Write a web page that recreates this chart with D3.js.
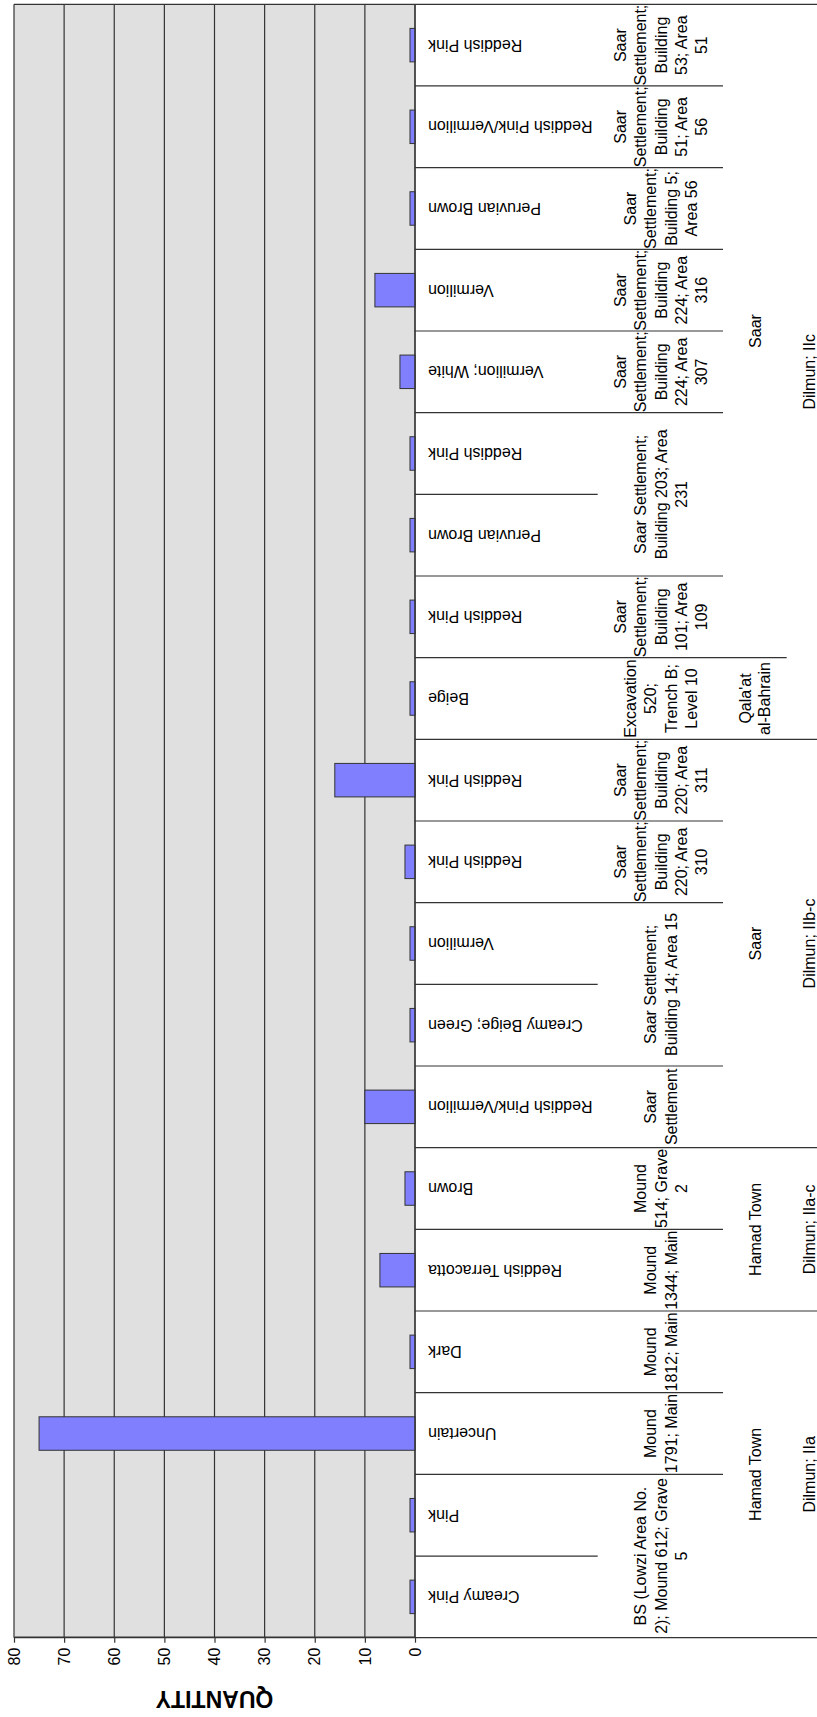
<!DOCTYPE html>
<html>
<head>
<meta charset="utf-8">
<script src="https://cdn.jsdelivr.net/npm/d3@7"></script>
<style>
  body { margin: 0; background: #fff; }
  text { font-family: "Liberation Sans", Arial, sans-serif; }
</style>
</head>
<body>
<div class="chart"></div>
<script>
// categories, first = left of the unrotated chart (bottom of the picture)
var colours = ["Creamy Pink", "Pink", "Uncertain", "Dark", "Reddish Terracotta", "Brown",
  "Reddish Pink/Vermilion", "Creamy Beige; Green", "Vermilion", "Reddish Pink", "Reddish Pink",
  "Beige", "Reddish Pink", "Peruvian Brown", "Reddish Pink", "Vermilion; White", "Vermilion",
  "Peruvian Brown", "Reddish Pink/Vermilion", "Reddish Pink"];

var quantities = [1, 1, 75, 1, 7, 2, 10, 1, 1, 2, 16, 1, 1, 1, 1, 3, 8, 1, 1, 1];

// context labels, line breaks as in the picture
var contexts = [
  "BS (Lowzi Area No.\n2); Mound 612; Grave\n5",
  "BS (Lowzi Area No.\n2); Mound 612; Grave\n5",
  "Mound\n1791; Main",
  "Mound\n1812; Main",
  "Mound\n1344; Main",
  "Mound\n514; Grave\n2",
  "Saar\nSettlement",
  "Saar Settlement;\nBuilding 14; Area 15",
  "Saar Settlement;\nBuilding 14; Area 15",
  "Saar\nSettlement;\nBuilding\n220; Area\n310",
  "Saar\nSettlement;\nBuilding\n220; Area\n311",
  "Excavation\n520;\nTrench B;\nLevel 10",
  "Saar\nSettlement;\nBuilding\n101; Area\n109",
  "Saar Settlement;\nBuilding 203; Area\n231",
  "Saar Settlement;\nBuilding 203; Area\n231",
  "Saar\nSettlement;\nBuilding\n224; Area\n307",
  "Saar\nSettlement;\nBuilding\n224; Area\n316",
  "Saar\nSettlement;\nBuilding 5;\nArea 56",
  "Saar\nSettlement;\nBuilding\n51; Area\n56",
  "Saar\nSettlement;\nBuilding\n53; Area\n51"
];

var sites = ["Hamad Town", "Hamad Town", "Hamad Town", "Hamad Town", "Hamad Town", "Hamad Town",
  "Saar", "Saar", "Saar", "Saar", "Saar", "Qala'at\nal-Bahrain",
  "Saar", "Saar", "Saar", "Saar", "Saar", "Saar", "Saar", "Saar"];

var periods = ["Dilmun; IIa", "Dilmun; IIa", "Dilmun; IIa", "Dilmun; IIa", "Dilmun; IIa-c", "Dilmun; IIa-c",
  "Dilmun; IIb-c", "Dilmun; IIb-c", "Dilmun; IIb-c", "Dilmun; IIb-c", "Dilmun; IIb-c",
  "Dilmun; IIc", "Dilmun; IIc", "Dilmun; IIc", "Dilmun; IIc", "Dilmun; IIc", "Dilmun; IIc",
  "Dilmun; IIc", "Dilmun; IIc", "Dilmun; IIc"];

var valueTicks = [0, 10, 20, 30, 40, 50, 60, 70, 80];
var axisTitle = "QUANTITY";

// the chart is drawn as a normal column chart, then turned a quarter turn
var W = 1717, H = 817;
var plotLeft = 79.3, plotRight = 1712.7, plotTop = 14, plotBottom = 415;
var lineCol = "#333";

var x = d3.scaleBand()
  .domain(d3.range(colours.length))
  .range([plotLeft, plotRight])
  .paddingInner(0.59)
  .paddingOuter(0.295);

var edge = d3.scaleLinear()
  .domain([0, colours.length])
  .range([plotLeft, plotRight]);

var y = d3.scaleLinear()
  .domain([0, 80])
  .range([plotBottom, plotTop]);

var svg = d3.select(".chart").append("svg")
  .attr("width", H)
  .attr("height", W);

var g = svg.append("g")
  .attr("transform", "translate(0," + W + ") rotate(-90)");

// plot background
g.append("rect")
  .attr("x", plotLeft)
  .attr("y", plotTop)
  .attr("width", plotRight - plotLeft)
  .attr("height", plotBottom - plotTop)
  .attr("fill", "#e0e0e0");

// grid lines
g.selectAll(".grid")
  .data(valueTicks)
  .enter().append("line")
  .attr("class", "grid")
  .attr("x1", plotLeft)
  .attr("x2", plotRight)
  .attr("y1", function (d) { return y(d); })
  .attr("y2", function (d) { return y(d); })
  .attr("stroke", lineCol)
  .attr("stroke-width", 1.2);

// bars
g.selectAll(".bar")
  .data(quantities)
  .enter().append("rect")
  .attr("class", "bar")
  .attr("x", function (d, i) { return x(i); })
  .attr("width", x.bandwidth())
  .attr("y", function (d) { return y(d); })
  .attr("height", function (d) { return y(0) - y(d); })
  .attr("fill", "#8080ff")
  .attr("stroke", lineCol)
  .attr("stroke-width", 1);

// value axis
var yAxis = g.append("g")
  .attr("transform", "translate(" + plotLeft + ",0)")
  .call(d3.axisLeft(y).tickValues(valueTicks).tickSize(5).tickSizeOuter(0).tickPadding(5));
yAxis.selectAll("path, line").attr("stroke", lineCol).attr("stroke-width", 1.2);
yAxis.selectAll("text")
  .attr("fill", "#000")
  .style("font-size", "16px")
  .style("font-family", "'Liberation Sans', Arial, sans-serif");

g.append("text")
  .attr("transform", "translate(18," + ((plotTop + plotBottom) / 2) + ") rotate(-90)")
  .attr("text-anchor", "middle")
  .attr("dy", "0.35em")
  .style("font-size", "23px")
  .style("font-weight", "bold")
  .text(axisTitle);

// grouping of consecutive equal labels
function runs(keys) {
  var out = [];
  keys.forEach(function (k, i) {
    var last = out[out.length - 1];
    if (last && last.key === k) last.end = i;
    else out.push({ key: k, start: i, end: i });
  });
  return out;
}

var periodKeys = periods;
var siteKeys = periods.map(function (p, i) { return p + "|" + sites[i]; });
var contextKeys = siteKeys.map(function (s, i) { return s + "|" + contexts[i]; });

// separator lines between categories (outer ones also frame the plot)
var bounds = d3.range(colours.length + 1).map(function (i) {
  var outer = i === 0 || i === colours.length;
  var reach;
  if (outer || periodKeys[i] !== periodKeys[i - 1]) reach = H;
  else if (siteKeys[i] !== siteKeys[i - 1]) reach = 786.7;
  else if (contextKeys[i] !== contextKeys[i - 1]) reach = 723;
  else reach = 597.7;
  return { i: i, reach: reach, from: outer ? plotTop : plotBottom };
});

g.selectAll(".sep")
  .data(bounds)
  .enter().append("line")
  .attr("class", "sep")
  .attr("x1", function (d) { return edge(d.i); })
  .attr("x2", function (d) { return edge(d.i); })
  .attr("y1", function (d) { return d.from; })
  .attr("y2", function (d) { return d.reach; })
  .attr("stroke", lineCol)
  .attr("stroke-width", 1.2);

// category axis line
g.append("line")
  .attr("x1", plotLeft).attr("x2", plotRight)
  .attr("y1", plotBottom).attr("y2", plotBottom)
  .attr("stroke", lineCol)
  .attr("stroke-width", 1.2);

// colour labels (vertical)
g.selectAll(".colour")
  .data(colours)
  .enter().append("text")
  .attr("class", "colour")
  .attr("transform", function (d, i) {
    return "translate(" + (x(i) + x.bandwidth() / 2) + ",428) rotate(-90)";
  })
  .attr("text-anchor", "end")
  .attr("dy", "0.35em")
  .style("font-size", "16px")
  .text(function (d) { return d; });

// multi line level labels
function levelLabels(cls, groups, textOf, centre, lineGap) {
  var t = g.selectAll("." + cls)
    .data(groups)
    .enter().append("text")
    .attr("class", cls)
    .attr("text-anchor", "middle")
    .style("font-size", "16px");
  t.each(function (d) {
    var lines = textOf(d).split("\n");
    var cx = (edge(d.start) + edge(d.end + 1)) / 2;
    d3.select(this).selectAll("tspan")
      .data(lines)
      .enter().append("tspan")
      .attr("x", cx)
      .attr("y", function (l, j) { return centre + (j - (lines.length - 1) / 2) * lineGap; })
      .attr("dy", "0.35em")
      .text(function (l) { return l; });
  });
}

levelLabels("context", runs(contextKeys), function (d) { return d.key.split("|")[2]; }, 661, 20.3);
levelLabels("site", runs(siteKeys), function (d) { return d.key.split("|")[1]; }, 755, 19);
levelLabels("period", runs(periodKeys), function (d) { return d.key; }, 809.5, 19);
</script>
</body>
</html>
